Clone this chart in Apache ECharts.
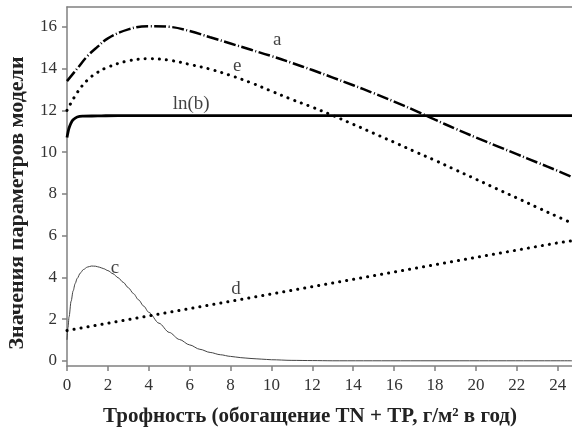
<!DOCTYPE html>
<html>
<head>
<meta charset="utf-8">
<script src="https://cdn.jsdelivr.net/npm/echarts@6/dist/echarts.min.js"></script>
<style>
  html, body { margin: 0; padding: 0; background: #fff; }
  #chart { width: 572px; height: 432px; }
</style>
</head>
<body>
<div id="chart"></div>
<script>
// Model parameters as functions of trophic state (TN + TP loading)
var xAE = [0, 0.5, 1, 1.5, 2, 3, 4, 5, 6, 7, 8, 9, 10, 11, 12, 13, 14, 15, 16, 17, 18, 19, 20, 21, 22, 23, 24, 24.7];
var aVals = [13.4, 14.0, 14.6, 15.05, 15.45, 15.88, 16.03, 16.0, 15.8, 15.5, 15.2, 14.9, 14.6, 14.27, 13.93, 13.57, 13.2, 12.82, 12.42, 12.0, 11.55, 11.12, 10.7, 10.3, 9.9, 9.5, 9.1, 8.8];
var eVals = [12.0, 12.85, 13.45, 13.82, 14.07, 14.37, 14.47, 14.4, 14.2, 13.97, 13.67, 13.32, 12.92, 12.52, 12.15, 11.75, 11.33, 10.9, 10.47, 10.03, 9.6, 9.15, 8.7, 8.25, 7.8, 7.35, 6.9, 6.6];

var xB = [0, 0.05, 0.1, 0.2, 0.3, 0.5, 0.8, 1.5, 2.5, 24.7];
var lnbVals = [10.7, 10.95, 11.15, 11.4, 11.55, 11.68, 11.72, 11.73, 11.75, 11.75];

var xC = [0, 0.05, 0.1, 0.2, 0.3, 0.4, 0.5, 0.65, 0.8, 1.0, 1.2, 1.4, 1.6, 1.8, 2.0, 2.25, 2.5, 2.75, 3.0, 3.25, 3.5, 3.75, 4.0, 4.5, 5.0, 5.5, 6.0, 6.5, 7.0, 7.5, 8.0, 8.5, 9.0, 9.5, 10, 11, 12, 13, 24.7];
var cVals = [1.0, 1.6, 2.1, 2.85, 3.35, 3.7, 3.95, 4.2, 4.37, 4.49, 4.54, 4.53, 4.48, 4.41, 4.32, 4.17, 3.98, 3.76, 3.5, 3.22, 2.92, 2.62, 2.32, 1.8, 1.36, 1.02, 0.76, 0.55, 0.4, 0.29, 0.21, 0.15, 0.11, 0.08, 0.05, 0.02, 0.01, 0, 0];

var xD = [0, 2, 4, 6, 8, 10, 12, 14, 16, 18, 20, 22, 24, 24.7];
var dVals = [1.45, 1.8, 2.15, 2.5, 2.85, 3.2, 3.55, 3.9, 4.25, 4.6, 4.95, 5.3, 5.65, 5.75];

var yTicks = [0, 2, 4, 6, 8, 10, 12, 14, 16];

var xTitle = 'Трофность (обогащение TN + TP, г/м² в год)';
var yTitle = 'Значения параметров модели';

// Curve captions placed in data coordinates
var captions = [
  { text: 'a', x: 10.28, y: 15.38 },
  { text: 'e', x: 8.32, y: 14.1 },
  { text: 'ln(b)', x: 6.07, y: 12.29 },
  { text: 'c', x: 2.35, y: 4.45 },
  { text: 'd', x: 8.27, y: 3.45 }
];

function pairs(xs, ys) {
  return xs.map(function (x, i) { return [x, ys[i]]; });
}

var serif = '"Liberation Serif", "Times New Roman", serif';
var axisGray = '#808080';

var chart = echarts.init(document.getElementById('chart'), null, { renderer: 'canvas' });

chart.setOption({
  animation: false,
  backgroundColor: '#ffffff',
  grid: { left: 67, right: 0, top: 7, bottom: 63, containLabel: false },
  // vertical axis title, set a little below the plot's mid-height
  graphic: [{
    type: 'text',
    x: 17,
    y: 203,
    rotation: Math.PI / 2,
    style: {
      text: yTitle,
      fill: '#222',
      font: 'bold 22px ' + serif,
      align: 'center',
      verticalAlign: 'middle'
    }
  }],
  xAxis: [{
    type: 'value',
    position: 'bottom',
    min: 0,
    max: 24.7,
    interval: 2,
    splitLine: { show: false },
    axisLine: { onZero: false, lineStyle: { color: axisGray, width: 1.5 } },
    axisTick: { show: true, inside: false, length: 5, lineStyle: { color: axisGray, width: 1.5 } },
    axisLabel: { color: '#333', fontFamily: serif, fontSize: 17, margin: 11, showMaxLabel: false },
    name: xTitle,
    nameLocation: 'middle',
    nameGap: 40,
    nameTextStyle: { color: '#222', fontFamily: serif, fontSize: 21, fontWeight: 'bold', padding: [0, 19, 0, 0] }
  }, {
    type: 'value',
    position: 'top',
    min: 0,
    max: 24.7,
    splitLine: { show: false },
    axisLine: { onZero: false, lineStyle: { color: axisGray, width: 1.5 } },
    axisTick: { show: false },
    axisLabel: { show: false }
  }],
  yAxis: {
    type: 'value',
    min: -0.25,
    max: 16.95,
    splitLine: { show: false },
    axisLine: { onZero: false, lineStyle: { color: axisGray, width: 1.5 } },
    axisTick: { show: true, inside: false, length: 5, customValues: yTicks, lineStyle: { color: axisGray, width: 1.5 } },
    axisLabel: { color: '#333', fontFamily: serif, fontSize: 17, margin: 10, customValues: yTicks }
  },
  series: [
    {
      name: 'a', type: 'line', data: pairs(xAE, aVals), smooth: 0.4, symbol: 'none',
      lineStyle: { color: '#000', width: 2.5, type: [12, 2.5, 1, 2.5], cap: 'butt' }, z: 3
    },
    {
      name: 'e', type: 'line', data: pairs(xAE, eVals), smooth: 0.4, symbol: 'none',
      lineStyle: { color: '#000', width: 3, type: [0.1, 7], cap: 'round' }, z: 3
    },
    {
      name: 'ln(b)', type: 'line', data: pairs(xB, lnbVals), smooth: 0.4, symbol: 'none',
      lineStyle: { color: '#000', width: 2.8 }, z: 4
    },
    {
      name: 'c', type: 'line', data: pairs(xC, cVals), smooth: 0.3, smoothMonotone: 'x', symbol: 'none',
      lineStyle: { color: '#444', width: 1 }, z: 2
    },
    {
      name: 'd', type: 'line', data: pairs(xD, dVals), smooth: false, symbol: 'none',
      lineStyle: { color: '#000', width: 3, type: [0.1, 7], cap: 'round' }, z: 3
    },
    {
      name: 'captions', type: 'scatter', symbolSize: 0, silent: true, z: 5,
      data: captions.map(function (c) {
        return { value: [c.x, c.y], label: { show: true, formatter: c.text } };
      }),
      label: {
        position: 'inside', color: '#111', fontFamily: serif, fontSize: 19
      }
    }
  ]
});
</script>
</body>
</html>
